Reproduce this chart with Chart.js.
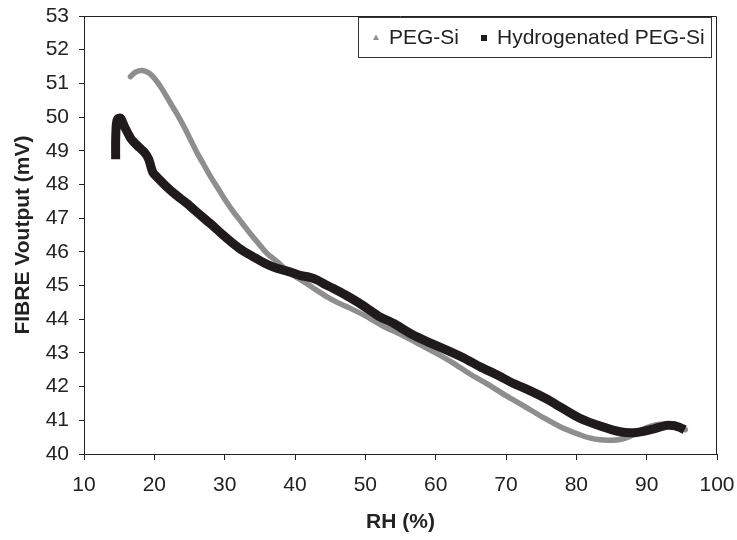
<!DOCTYPE html>
<html><head><meta charset="utf-8">
<script src="https://cdn.jsdelivr.net/npm/chart.js@4"></script>
<style>html,body{margin:0;padding:0;background:#fff;}</style>
</head><body>
<canvas id="c" width="737" height="540"></canvas>
<script>
const pegX = [16.6, 17.3, 18.3, 19.3, 20.2, 21.2, 22.3, 23.2, 24.2, 25.1, 26.1, 27.0, 28.0, 29.0, 29.9, 31.2, 32.5, 33.6, 35.0, 36.0, 37.5, 38.8, 40.2, 41.6, 43.0, 44.5, 46.0, 47.8, 50.0, 52.5, 55.0, 57.5, 60.0, 62.5, 65.0, 67.5, 70.0, 72.5, 75.0, 77.7, 80.5, 82.0, 83.4, 84.8, 86.2, 87.6, 89.0, 90.5, 92.0, 93.5, 94.8, 95.5];
const pegY = [51.20, 51.33, 51.38, 51.30, 51.10, 50.80, 50.41, 50.10, 49.72, 49.35, 48.93, 48.60, 48.23, 47.90, 47.60, 47.20, 46.85, 46.55, 46.20, 45.96, 45.70, 45.46, 45.25, 45.07, 44.87, 44.67, 44.50, 44.33, 44.10, 43.80, 43.55, 43.28, 43.00, 42.70, 42.36, 42.06, 41.73, 41.43, 41.12, 40.81, 40.57, 40.47, 40.42, 40.41, 40.43, 40.52, 40.68, 40.82, 40.88, 40.86, 40.80, 40.72];
const hydX = [14.5, 14.5, 14.6, 14.8, 15.2, 15.8, 16.7, 17.6, 18.6, 19.2, 19.8, 20.7, 21.7, 23.0, 24.6, 26.2, 27.9, 29.5, 31.2, 32.6, 34.0, 35.7, 37.4, 39.0, 40.7, 42.0, 43.3, 44.3, 45.4, 47.2, 49.2, 52.0, 54.0, 56.8, 59.2, 61.5, 64.0, 66.3, 68.7, 71.0, 73.4, 75.8, 78.0, 80.5, 83.4, 86.2, 88.6, 90.9, 92.8, 94.0, 94.7, 95.4];
const hydY = [48.75, 49.30, 49.80, 49.95, 49.97, 49.70, 49.35, 49.15, 48.95, 48.75, 48.35, 48.15, 47.94, 47.70, 47.44, 47.15, 46.85, 46.55, 46.25, 46.03, 45.86, 45.66, 45.51, 45.42, 45.30, 45.25, 45.15, 45.03, 44.92, 44.72, 44.47, 44.08, 43.88, 43.53, 43.30, 43.09, 42.85, 42.59, 42.35, 42.10, 41.88, 41.63, 41.36, 41.06, 40.83, 40.66, 40.64, 40.74, 40.85, 40.84, 40.79, 40.72];
const xTicks = [10, 20, 30, 40, 50, 60, 70, 80, 90, 100];
const yTicks = [40, 41, 42, 43, 44, 45, 46, 47, 48, 49, 50, 51, 52, 53];
const seriesNames = ['PEG-Si', 'Hydrogenated PEG-Si'];

const FONT = "'Liberation Sans', Arial, sans-serif";
const GREY = '#8e8e8e', BLACK = '#1f1b1c', AXIS = '#222';

const toPts = (xs, ys) => xs.map((x, i) => ({x, y: ys[i]}));

const boxPlugin = {
  id: 'box',
  afterDraw(chart) {
    const {ctx, chartArea: a} = chart;
    ctx.save();
    ctx.strokeStyle = AXIS; ctx.lineWidth = 1;
    ctx.beginPath();
    ctx.moveTo(Math.round(a.left) + 0.5, Math.round(a.top) + 0.5);
    ctx.lineTo(Math.round(a.right) - 0.5, Math.round(a.top) + 0.5);
    ctx.lineTo(Math.round(a.right) - 0.5, Math.round(a.bottom) + 0.5);
    ctx.stroke();
    // legend
    const ds = chart.data.datasets;
    const lx = 358, ly = 17, lw = 353, lh = 40;
    ctx.strokeStyle = '#333';
    ctx.strokeRect(lx + 0.5, ly + 0.5, lw, lh);
    ctx.font = "21px " + FONT;
    ctx.textBaseline = 'alphabetic';
    ctx.textAlign = 'left';
    ctx.fillStyle = ds[0].borderColor;
    ctx.beginPath();
    ctx.moveTo(376, 34.5); ctx.lineTo(379, 40); ctx.lineTo(373, 40); ctx.closePath(); ctx.fill();
    ctx.fillStyle = '#222';
    ctx.fillText(ds[0].label, 389, 43.5);
    ctx.fillStyle = ds[1].borderColor;
    ctx.fillRect(481, 35, 6, 6);
    ctx.fillStyle = '#222';
    ctx.fillText(ds[1].label, 497, 43.5);
    ctx.restore();
  }
};

new Chart(document.getElementById('c'), {
  type: 'scatter',
  data: {
    datasets: [
      { label: seriesNames[0], data: toPts(pegX, pegY), showLine: true, borderColor: GREY, backgroundColor: GREY,
        borderWidth: 5.5, pointRadius: 0, borderCapStyle: 'round', borderJoinStyle: 'round', tension: 0.3, order: 2 },
      { label: seriesNames[1], data: toPts(hydX, hydY), showLine: true, borderColor: BLACK, backgroundColor: BLACK,
        borderWidth: 9, pointRadius: 0, borderCapStyle: 'butt', borderJoinStyle: 'round', tension: 0.2, order: 1 }
    ]
  },
  options: {
    responsive: false,
    animation: false,
    devicePixelRatio: 1,
    layout: { padding: { top: 16, right: 20, left: 0, bottom: 0 } },
    plugins: { legend: { display: false }, tooltip: { enabled: false } },
    scales: {
      x: {
        type: 'linear', min: 10, max: 100,
        afterBuildTicks: s => { s.ticks = xTicks.map(v => ({value: v})); },
        afterFit: s => { s.height = 86; s.paddingLeft = 0; s.paddingRight = 0; },
        ticks: { color: AXIS, font: { family: FONT, size: 21 }, padding: 13, maxRotation: 0 },
        grid: { drawOnChartArea: false, tickLength: 6, color: AXIS, lineWidth: 1 },
        border: { color: AXIS, width: 1 },
        title: { display: true, text: 'RH (%)', color: AXIS, font: { family: FONT, size: 21, weight: 'bold' }, padding: { top: 14, bottom: 5 } }
      },
      y: {
        type: 'linear', min: 40, max: 53,
        afterBuildTicks: s => { s.ticks = yTicks.map(v => ({value: v})); },
        afterFit: s => { s.width = 84; s.paddingTop = 0; s.paddingBottom = 0; },
        ticks: { color: AXIS, font: { family: FONT, size: 21 }, padding: 10 },
        grid: { drawOnChartArea: false, tickLength: 5, color: AXIS, lineWidth: 1 },
        border: { color: AXIS, width: 1 },
        title: { display: true, text: 'FIBRE Voutput (mV)', color: AXIS, font: { family: FONT, size: 21, weight: 'bold' }, padding: { top: 11, bottom: 0 } }
      }
    }
  },
  plugins: [boxPlugin]
});
</script>
</body></html>
